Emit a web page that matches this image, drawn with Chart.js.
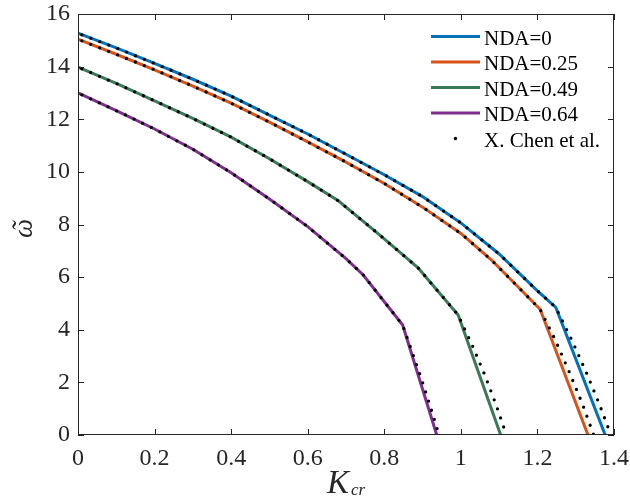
<!DOCTYPE html>
<html>
<head>
<meta charset="utf-8">
<title>Kcr vs omega</title>
<script src="https://cdn.jsdelivr.net/npm/chart.js@4.4.1/dist/chart.umd.min.js"></script>
<style>
  html, body { margin: 0; padding: 0; background: #fff; }
  #wrap { width: 630px; height: 498px; }
</style>
</head>
<body>
<div id="wrap"><canvas id="chart"></canvas></div>
<script>
// Axis ticks
const xTicks = [0, 0.2, 0.4, 0.6, 0.8, 1, 1.2, 1.4];
const yTicks = [0, 2, 4, 6, 8, 10, 12, 14, 16];

// Legend labels
const seriesLabels = ['NDA=0', 'NDA=0.25', 'NDA=0.49', 'NDA=0.64'];
const refLabel = 'X. Chen et al.';

// Present results (solid lines): K_cr and omega
const kNda0 = [0, 0.1, 0.2, 0.3, 0.4, 0.5, 0.6, 0.7, 0.8, 0.9, 1.0, 1.1, 1.2, 1.248, 1.377];
const wNda0 = [15.27, 14.71, 14.12, 13.52, 12.88, 12.16, 11.44, 10.67, 9.89, 9.06, 8.06, 6.88, 5.48, 4.85, 0];

const kNda25 = [0, 0.1, 0.2, 0.3, 0.4, 0.5, 0.6, 0.7, 0.8, 0.9, 1.0, 1.08, 1.207, 1.332];
const wNda25 = [15.04, 14.47, 13.88, 13.26, 12.61, 11.89, 11.14, 10.37, 9.56, 8.66, 7.66, 6.65, 4.78, 0];

const kNda49 = [0, 0.1, 0.2, 0.3, 0.4, 0.5, 0.6, 0.68, 0.79, 0.889, 0.993, 1.104];
const wNda49 = [13.98, 13.36, 12.70, 12.03, 11.32, 10.50, 9.63, 8.90, 7.58, 6.34, 4.56, 0];

const kNda64 = [0, 0.1, 0.2, 0.3, 0.4, 0.5, 0.6, 0.7, 0.745, 0.848, 0.937];
const wNda64 = [13.0, 12.33, 11.63, 10.86, 9.97, 8.97, 7.92, 6.70, 6.08, 4.18, 0];

// X. Chen et al. reference curves (dotted)
const kChen0 = [0.01, 0.1, 0.2, 0.3, 0.4, 0.5, 0.6, 0.7, 0.8, 0.9, 1.0, 1.1, 1.2, 1.248, 1.29, 1.327, 1.361, 1.392];
const wChen0 = [15.21, 14.71, 14.12, 13.52, 12.88, 12.16, 11.44, 10.67, 9.89, 9.06, 8.06, 6.88, 5.48, 4.85, 3.6, 2.4, 1.2, 0];

const kChen25 = [0.01, 0.1, 0.2, 0.3, 0.4, 0.5, 0.6, 0.7, 0.8, 0.9, 1.0, 1.08, 1.207, 1.247, 1.283, 1.317, 1.347];
const wChen25 = [14.98, 14.47, 13.88, 13.26, 12.61, 11.89, 11.14, 10.37, 9.56, 8.66, 7.66, 6.65, 4.78, 3.6, 2.4, 1.2, 0];

const kChen49 = [0.01, 0.1, 0.2, 0.3, 0.4, 0.5, 0.6, 0.68, 0.79, 0.889, 0.993, 1.03, 1.062, 1.092, 1.119];
const wChen49 = [13.92, 13.36, 12.70, 12.03, 11.32, 10.50, 9.63, 8.90, 7.58, 6.34, 4.56, 3.4, 2.3, 1.15, 0];

const kChen64 = [0.01, 0.1, 0.2, 0.3, 0.4, 0.5, 0.6, 0.7, 0.745, 0.848, 0.874, 0.899, 0.922, 0.943];
const wChen64 = [12.93, 12.33, 11.63, 10.86, 9.97, 8.97, 7.92, 6.70, 6.08, 4.18, 3.1, 2.05, 1.0, 0];

const INK = '#262626';
const SERIF = "'Liberation Serif', 'Times New Roman', serif";
const colors = ['#0072BD', '#D95319', '#3B7A57', '#7E2F8E'];

const toPoints = (ks, ws) => ks.map((k, i) => ({ x: k, y: ws[i] }));

const solid = [[kNda0, wNda0], [kNda25, wNda25], [kNda49, wNda49], [kNda64, wNda64]];
const dotted = [[kChen0, wChen0], [kChen25, wChen25], [kChen49, wChen49], [kChen64, wChen64]];

const datasets = [];
solid.forEach(([ks, ws], i) => {
  datasets.push({
    label: seriesLabels[i],
    data: toPoints(ks, ws),
    showLine: true,
    borderColor: colors[i],
    borderWidth: 3,
    pointRadius: 0,
    order: 2
  });
});
dotted.forEach(([ks, ws]) => {
  datasets.push({
    label: refLabel,
    data: toPoints(ks, ws),
    showLine: true,
    borderColor: '#000',
    borderWidth: 3.3,
    borderDash: [0, 9.6],
    borderCapStyle: 'round',
    pointRadius: 0,
    order: 1
  });
});

// Box, inward ticks, axis labels and the legend
const decorations = {
  id: 'decorations',
  afterDraw(chart) {
    const { ctx, chartArea: a, scales } = chart;
    const xs = scales.x, ys = scales.y;
    ctx.save();

    ctx.strokeStyle = INK;
    ctx.lineWidth = 1;
    ctx.strokeRect(a.left + 0.5, a.top + 0.5, a.width - 1, a.height - 1);

    const len = 6;
    ctx.beginPath();
    xTicks.forEach(v => {
      const px = Math.round(xs.getPixelForValue(v)) + 0.5;
      ctx.moveTo(px, a.bottom); ctx.lineTo(px, a.bottom - len);
      ctx.moveTo(px, a.top); ctx.lineTo(px, a.top + len);
    });
    yTicks.forEach(v => {
      const py = Math.round(ys.getPixelForValue(v)) + 0.5;
      ctx.moveTo(a.left, py); ctx.lineTo(a.left + len, py);
      ctx.moveTo(a.right, py); ctx.lineTo(a.right - len, py);
    });
    ctx.stroke();

    // x axis label K_cr
    ctx.fillStyle = INK;
    ctx.textBaseline = 'alphabetic';
    ctx.textAlign = 'left';
    ctx.font = `italic 33px ${SERIF}`;
    const kw = ctx.measureText('K').width;
    ctx.font = `italic 17px ${SERIF}`;
    const sw = ctx.measureText('cr').width;
    const tx = (a.left + a.right) / 2 - (kw + 2 + sw) / 2;
    ctx.font = `italic 33px ${SERIF}`;
    ctx.fillText('K', tx, 493);
    ctx.font = `italic 17px ${SERIF}`;
    ctx.fillText('cr', tx + kw + 2, 495);

    // y axis label: omega with tilde, rotated
    ctx.save();
    ctx.translate(0, (a.top + a.bottom) / 2 + 4);
    ctx.rotate(-Math.PI / 2);
    ctx.textAlign = 'center';
    ctx.font = `italic 27px ${SERIF}`;
    ctx.fillText('\u03C9', 0, 32);
    ctx.fillText('\u02DC', 2, 31);
    ctx.restore();

    // legend
    const lx0 = a.right - 183, lx1 = a.right - 134, textX = a.right - 130;
    const rowY = [36.5, 62, 87.5, 113, 138.5];
    ctx.textAlign = 'left';
    ctx.font = `21px ${SERIF}`;
    ctx.fillStyle = '#000';
    ctx.lineWidth = 3;
    seriesLabels.forEach((t, i) => {
      ctx.strokeStyle = colors[i];
      ctx.beginPath();
      ctx.moveTo(lx0, rowY[i]);
      ctx.lineTo(lx1, rowY[i]);
      ctx.stroke();
      ctx.fillText(t, textX, rowY[i] + 8);
    });
    ctx.beginPath();
    ctx.arc((lx0 + lx1) / 2, rowY[4], 1.7, 0, Math.PI * 2);
    ctx.fill();
    ctx.fillText(refLabel, textX, rowY[4] + 8);

    ctx.restore();
  }
};

new Chart(document.getElementById('chart'), {
  type: 'scatter',
  data: { datasets },
  options: {
    responsive: true,
    maintainAspectRatio: false,
    animation: false,
    layout: { padding: { top: 14, right: 16, left: 0, bottom: 0 } },
    plugins: {
      legend: { display: false },
      tooltip: { enabled: false }
    },
    scales: {
      x: {
        type: 'linear',
        min: 0,
        max: 1.4,
        afterBuildTicks: scale => { scale.ticks = xTicks.map(v => ({ value: v })); },
        afterFit: scale => {
          scale.height = 63;
          scale.paddingLeft = 0;
          scale.paddingRight = 0;
        },
        grid: { display: false, drawTicks: false },
        border: { display: false },
        ticks: {
          padding: 9,
          color: INK,
          font: { family: SERIF, size: 24 },
          callback: v => String(+v.toFixed(1))
        }
      },
      y: {
        type: 'linear',
        min: 0,
        max: 16,
        afterBuildTicks: scale => { scale.ticks = yTicks.map(v => ({ value: v })); },
        afterFit: scale => {
          scale.width = 78;
          scale.paddingTop = 0;
          scale.paddingBottom = 0;
        },
        grid: { display: false, drawTicks: false },
        border: { display: false },
        ticks: {
          padding: 8,
          color: INK,
          font: { family: SERIF, size: 24 },
          callback: v => String(v)
        }
      }
    }
  },
  plugins: [decorations]
});
</script>
</body>
</html>
